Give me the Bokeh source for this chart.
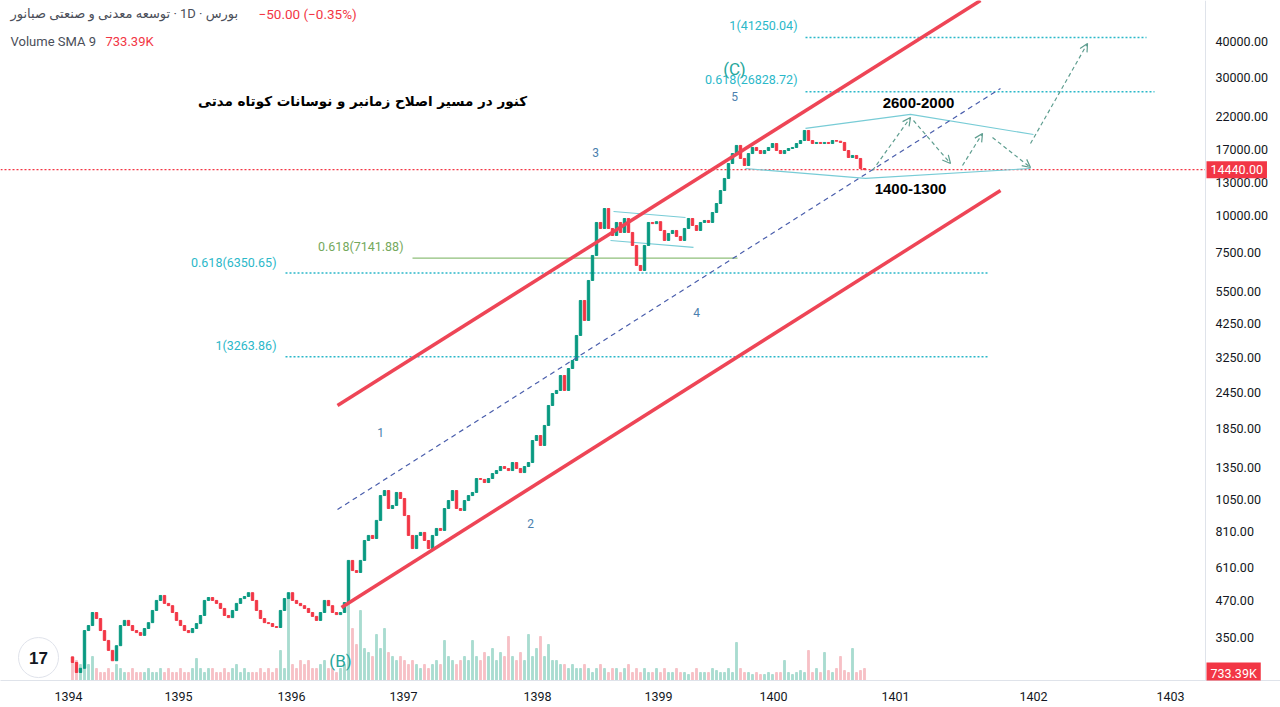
from bokeh.plotting import figure
from bokeh.models import (Range1d, LinearScale, FixedTicker, Label, Arrow, OpenHead,
                          Span, ColumnDataSource)
from bokeh.core.properties import value
from bokeh.embed import file_html
from bokeh.resources import INLINE

# ---------------- data ----------------
YEAR_LABELS = ["1394", "1395", "1396", "1397", "1398", "1399", "1400", "1401", "1402", "1403"]
YEAR_POS = [0, 27.5, 55.75, 83.75, 117.25, 147.5, 176.25, 206.75, 241.25, 275.5]   # bar index of each year start
PRICE_TICKS = [270, 350, 470, 610, 810, 1050, 1350, 1850, 2450, 3250, 4250, 5500,
               7500, 10000, 13000, 17000, 22000, 30000, 40000]

FIRST_OPEN = 300
CLOSES = [
    287, 265, 274, 370, 385, 427, 407, 370, 342, 316,
    291, 328, 385, 401, 385, 370, 364, 356, 376, 394,
    434, 470, 489, 459, 451, 427, 401, 385, 370, 364,
    376, 391, 417, 470, 481, 470, 459, 441, 417, 410,
    434, 459, 477, 485, 500, 470, 434, 407, 394, 391,
    382, 379, 434, 477, 500, 470, 459, 451, 441, 427,
    414, 401, 427, 470, 451, 427, 420, 427, 462, 646,
    596, 587, 646, 757, 788, 769, 888, 1082, 1126, 976,
    1000, 1109, 1057, 923, 788, 710, 788, 807, 757, 710,
    788, 833, 820, 976, 1040, 1126, 976, 961, 1040, 1082,
    1109, 1239, 1230, 1200, 1239, 1289, 1320, 1363, 1342, 1320,
    1407, 1342, 1299, 1363, 1407, 1676, 1744, 1611, 1889, 2214,
    2435, 2495, 2810, 2495, 2971, 3167, 3863, 5102, 4353, 5982,
    7298, 9486, 9045, 10600, 9045, 8555, 9486, 8762, 9791, 8762,
    7902, 6740, 6477, 7902, 9486, 9400, 9550, 8902, 8221, 8692,
    8902, 8488, 8221, 9045, 9791, 9262, 8902, 9486, 9638, 9486,
    10270, 11030, 12230, 13460, 15160, 16410, 17500, 15780, 14920, 16410,
    17220, 16810, 16410, 16810, 17220, 17770, 16810, 16410, 16810, 17080,
    17220, 17770, 18200, 19710, 18200, 17770, 17920, 17770, 17920, 17770,
    18200, 18100, 17920, 16810, 15900, 16160, 15780, 14570, 14440,
]
VOLUMES = [  # millions
    6, 5, 4,
    3, 4, 6, 3, 2,
    2, 3, 2, 4, 3, 2, 2, 3, 2, 2,
    2, 3, 2, 2, 3, 2, 3, 2, 2, 3, 2, 2, 3, 5.5, 3,
    2, 3, 3, 2, 2, 3, 2, 3, 4, 2, 3, 2, 2, 2, 3, 2,
    3, 2, 3, 7.5, 3, 21, 4, 3, 5,
    4, 5, 3, 3, 4, 5, 3, 3, 2, 3, 4,
    29.5, 13, 9, 17.5, 8, 7, 6, 11.5, 8, 13,
    7, 6, 5, 6, 5, 4, 5, 4, 3, 4, 3, 4, 5, 4,
    10, 6, 5, 4, 5, 6, 5,
    10, 6, 5, 7, 6, 8, 5, 7, 6,
    11, 6, 5, 7, 5, 11.5, 6, 8, 11, 6,
    9, 5, 5, 4,
    4, 3, 4, 3, 3, 4, 3, 2, 3, 4, 3, 2, 3, 3, 2, 3, 4, 2, 3, 2, 3, 2, 2, 3, 2, 3,
    2, 2, 3, 2, 2, 1.5, 2, 3, 2, 2, 2, 3, 2.5, 2, 2, 3, 2,
    9.5,
    3, 2, 2, 1.5, 2, 1.5, 1.5, 2, 1.5, 2, 2,
    5,
    2, 1.5, 2, 2.5, 2,
    7.5,
    2, 3, 2,
    7,
    2.5, 2, 3,
    6,
    2.5, 2,
    8,
    2, 2.5, 3,
]
LAST_PRICE = 14440
VOLUME_SMA = "733.39K"

FIB_TEXT = ["1(41250.04)", "0.618(26828.72)", "0.618(6350.65)", "1(3263.86)"]
FIB_LEVEL = [41250.04, 26828.72, 6350.65, 3263.86]
GREEN_FIB_TEXT = "0.618(7141.88)"
GREEN_FIB_LEVEL = 7141.88

WAVE_TEXT = ["1", "2", "3", "4", "5"]
CORR_TEXT = ["(C)", "(B)"]

TITLE_FA = "کنور در مسیر اصلاح زمانبر و نوسانات کوتاه مدتی"
ZONE_TEXT = ["2600-2000", "1400-1300"]
HEADER_NAME = "توسعه معدنی و صنعتی صبانور\u200e · 1D · بورس"
HEADER_CHANGE = "\u221250.00 (\u22120.35%)"

# ---------------- drawing positions (bar index, price) ----------------
SCALE_X = 284.25         # left edge of the price-scale column
SCALE_LABEL_X = 286.75
CH_UP_X, CH_UP_Y = [67.25, 228], [2214, 55400]
CH_LO_X, CH_LO_Y = [68.25, 233], [444.4, 12230]
MID_X, MID_Y = [67.25, 233], [968.4, 27530]
FIB_X0 = [184.25, 184.25, 54.25, 54.25]
FIB_X1 = [269.5, 271.5, 230, 230]
FIB_LBL_X = [182.25, 182.25, 52, 52]
FIB_LBL_Y = [45420, 29570, 6903, 3567]
GFIB_X0, GFIB_X1, GFIB_LBL = 86, 167.25, (83.75, 7840)
WAVE_X = [78, 115.5, 131.75, 157, 166.5]
WAVE_Y = [1786, 866, 16550, 4638, 25830]
CORR_X = [166.5, 68]
CORR_Y = [32020, 291.4]
TRI_TOP = ([136.25, 154.25], [10350, 9870])
TRI_BOT = ([135.5, 156.25], [8221, 7778])
RNG_TOP = ([184.25, 210.5, 241.25], [20030, 22390, 19090])
RNG_BOT = ([169.25, 199.25, 240.5], [14570, 13460, 14570])
PROJ_X0 = [201, 211.25, 223.5, 231, 240.5]
PROJ_Y0 = [14340, 21340, 14920, 18640, 17770]
PROJ_X1 = [210.5, 220.5, 228.5, 240.5, 254.75]
PROJ_Y1 = [21860, 15160, 19250, 14690, 39370]

UP, DOWN = "#089981", "#f23645"
UPV, DOWNV = "#a9dcd0", "#f7c1c6"

p = figure(frame_width=1280, frame_height=680,
           x_range=Range1d(-17, 303), y_range=Range1d(248.7, 55400),
           y_axis_type="log", y_axis_location=None,
           output_backend="svg", toolbar_location=None,
           min_border_left=0, min_border_top=0, min_border_right=0, min_border_bottom=27,
           background_fill_color="white", border_fill_color="white")
p.outline_line_color = None
p.xgrid.visible = False
p.ygrid.visible = False

# time axis
p.xaxis.ticker = FixedTicker(ticks=YEAR_POS)
p.xaxis.major_label_overrides = {pos: lab for pos, lab in zip(YEAR_POS, YEAR_LABELS)}
p.xaxis.axis_line_color = "#dfe3ea"
p.xaxis.major_tick_line_color = None
p.xaxis.minor_tick_line_color = None
p.xaxis.major_label_text_font = "Roboto"
p.xaxis.major_label_text_color = "#131722"
p.xaxis.major_label_text_font_size = "12.5px"
p.xaxis.major_label_standoff = 5

# price scale column (TradingView style, placed through the log scale)
p.add_layout(Span(location=SCALE_X, dimension="height", line_color="#dfe3ea", line_width=1))
scale_src = ColumnDataSource(dict(x=[SCALE_LABEL_X] * len(PRICE_TICKS), y=PRICE_TICKS,
                                  t=[f"{v:.2f}" for v in PRICE_TICKS]))
p.text(x="x", y="y", text="t", source=scale_src, text_font=value("Roboto"),
       text_font_size="12.5px", text_color="#131722", text_align="left", text_baseline="middle")

# volume
p.extra_y_ranges = {"vol": Range1d(0, 170)}
p.extra_y_scales = {"vol": LinearScale()}
n = min(len(CLOSES), len(VOLUMES))
bars = list(range(1, n + 1))
opens = [FIRST_OPEN] + CLOSES[:n - 1]
closes = CLOSES[:n]
up = [c >= o for o, c in zip(opens, closes)]
src = ColumnDataSource(dict(
    x=bars,
    top=[max(o, c) for o, c in zip(opens, closes)],
    bottom=[min(o, c) for o, c in zip(opens, closes)],
    color=[UP if u else DOWN for u in up],
    vcolor=[UPV if u else DOWNV for u in up],
    vol=VOLUMES[:n],
))
p.vbar(x="x", top="vol", bottom=0, width=0.45, color="vcolor", y_range_name="vol", source=src)

# last-price line (stops at the price scale)
p.line([-17, SCALE_X], [LAST_PRICE, LAST_PRICE], line_color="#f23645",
       line_dash="2 2", line_width=1.2)

# fib levels
for x0, x1, lv in zip(FIB_X0, FIB_X1, FIB_LEVEL):
    p.line([x0, x1], [lv, lv], line_color="#2bb8c9", line_dash="2 2", line_width=1.5)
p.line([GFIB_X0, GFIB_X1], [GREEN_FIB_LEVEL, GREEN_FIB_LEVEL], line_color="#8fbf7a", line_width=1.2)

# triangle + range lines
for xs, ys in (TRI_TOP, TRI_BOT, RNG_TOP, RNG_BOT):
    p.line(xs, ys, line_color="#78ccd6", line_width=1.2)

# candles
p.vbar(x="x", top="top", bottom="bottom", width=0.6, color="color", source=src)

# channel
p.line(CH_UP_X, CH_UP_Y, line_color="#ee4556", line_width=3.5)
p.line(CH_LO_X, CH_LO_Y, line_color="#ee4556", line_width=3.5)
p.line(MID_X, MID_Y, line_color="#4a5eac", line_width=1.2, line_dash="5 4")

# projection arrows
for xa, ya, xb, yb in zip(PROJ_X0, PROJ_Y0, PROJ_X1, PROJ_Y1):
    p.add_layout(Arrow(end=OpenHead(size=8, line_color="#5f9e90", line_width=1.2),
                       x_start=xa, y_start=ya, x_end=xb, y_end=yb,
                       line_color="#5f9e90", line_width=1.2, line_dash="4 3"))


def txt(x, y, t, color, size, align="center", bold=False, font="Roboto", **kw):
    p.add_layout(Label(x=x, y=y, text=t, text_color=color, text_font_size=size,
                       text_align=align, text_baseline="middle",
                       text_font_style="bold" if bold else "normal",
                       text_font=font, **kw))


for t, x, y in zip(FIB_TEXT, FIB_LBL_X, FIB_LBL_Y):
    txt(x, y, t, "#2bb8c9", "12.5px", align="right")
txt(GFIB_LBL[0], GFIB_LBL[1], GREEN_FIB_TEXT, "#74a85c", "12.5px", align="right")
for t, x, y in zip(WAVE_TEXT, WAVE_X, WAVE_Y):
    txt(x, y, t, "#4b7fae", "12px")
for t, x, y in zip(CORR_TEXT, CORR_X, CORR_Y):
    txt(x, y, t, "#26a69a", "17px")

txt(73.5, 24830, TITLE_FA, "#000000", "13.5px", bold=True, font="DejaVu Sans")
txt(212.5, 24440, ZONE_TEXT[0], "#000000", "15px", bold=True, font="Liberation Sans")
txt(210.5, 12330, ZONE_TEXT[1], "#000000", "15px", bold=True, font="Liberation Sans")

# header legend
txt(-14.5, 49960, HEADER_NAME, "#4a4e59", "13px", align="left", font="Roboto, DejaVu Sans")
txt(47.5, 49960, HEADER_CHANGE, "#f23645", "13.5px", align="left")
txt(-14.5, 40000, "Volume SMA 9", "#4a4e59", "13px", align="left")
txt(9.25, 40000, VOLUME_SMA, "#f23645", "13px", align="left")

# logo
p.scatter([-7.5], [298.5], size=40, marker="circle", fill_color="white",
          line_color="#e0e3eb", line_width=1)
txt(-7.5, 298.5, "17", "#131722", "17px", bold=True, font="Liberation Sans")

# value boxes on the price scale
txt(SCALE_X + 0.25, LAST_PRICE, f"{LAST_PRICE:.2f}", "white", "12.5px", align="left",
    background_fill_color="#f23645", padding=4)
txt(SCALE_X + 0.25, 262, VOLUME_SMA, "white", "12.5px", align="left",
    background_fill_color="#f23645", padding=4)

open("out.html", "w").write(file_html(p, INLINE))
